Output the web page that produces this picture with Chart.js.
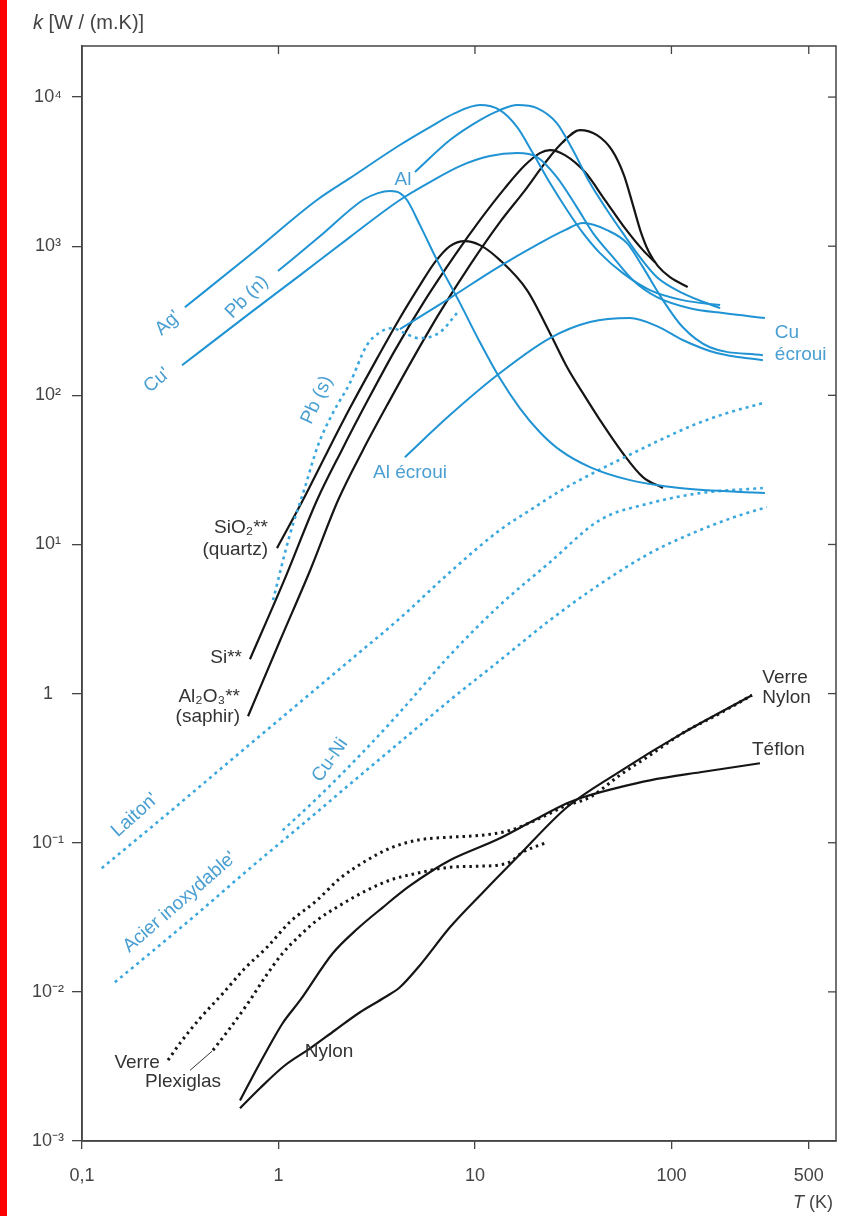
<!DOCTYPE html>
<html><head><meta charset="utf-8">
<script src="https://cdn.jsdelivr.net/npm/chart.js@4"></script>
<style>html,body{margin:0;padding:0;background:#fff;}canvas{display:block}</style>
</head><body><canvas id="c" width="841" height="1216"></canvas>
<script>
// ---------- tick values / labels ----------
const xTickValues=[0.1,1,10,100,500];
const xTickLabels=["0,1","1","10","100","500"];
const yTickValues=[1e-3,1e-2,1e-1,1,10,100,1000,10000];
const yTickLabels=["10⁻³","10⁻²","10⁻¹","1","10¹","10²","10³","10⁴"];

// ---------- series (T in K, k in W/(m.K)) ----------
const agT=[0.334,0.716,1.57,2.31,4.15,5.9,7.91,10.6,13.4,16.4,19.7,24.1,29.4,35.5,43.3,56.6,77.7,114,177];
const agK=[390,872,2040,2860,4770,6290,7810,8840,8180,6290,4210,2650,1750,1224,899,660,508,435,403];

const alT=[4.95,7.46,10.6,13.4,16.4,20.7,26.1,31.5,38.5,47.0,56.6,69.1,84.4,114,177];
const alK=[3140,5150,7010,8180,8840,8440,6690,4410,2650,1750,1224,845,620,485,384];

const cuT=[0.323,0.716,1.29,2.31,4.15,5.9,8.39,11.9,16.4,20.7,26.1,33.0,39.9,50.4,63.7,84.4,124,183,299];
const cuK=[159,356,640,1151,2040,2690,3445,4020,4210,3960,2907,1829,1224,845,592,456,384,356,330];

const pbnT=[0.994,1.63,2.69,3.21,3.69,4.15,4.51,5.25,6.41,8.39,10.6,13.4,16.9,21.4,27.1,38.5,61.5,110,299];
const pbnK=[681,1169,2040,2270,2342,2270,2040,1385,807,415,227,130,82.1,56.6,42.9,33.0,27.0,23.9,22.1];

const cuEcrT=[4.15,7.46,12.9,21.4,28.7,35.5,47.0,59.4,71.6,90.5,114,157,292];
const cuEcrK=[278,449,713,1049,1282,1428,1282,1049,724,435,287,210,186];

const alEcrT=[4.40,7.46,13.4,24.1,38.5,61.5,84.4,114,170,292];
const alEcrK=[38.5,73.7,141,242,310,330,291,235,192,172];

const pbsT=[0.938,1.14,1.36,1.59,1.89,2.31,2.82,3.29,3.78,4.40,5.13,6.64,8.10];
const pbsK=[4.23,11.5,23.9,46.3,76.0,121,217,265,282,261,242,265,356];

const quartzT=[0.983,1.33,1.77,2.31,3.10,4.15,5.25,6.26,7.46,8.89,10.6,13.4,18.4,24.1,29.4,35.5,43.3,56.6,71.6,90.5];
const quartzK=[9.45,19.8,41.6,82.1,167,330,548,782,1002,1082,1017,807,508,261,155,103,68.2,40.9,28.3,23.9];

const siT=[0.716,1.07,1.57,2.10,2.85,3.92,5.57,7.91,10.6,14.2,18.0,21.4,24.1,28.7,36.3,45.9,58.0,71.6,82.4];
const siK=[1.70,5.76,19.8,42.9,92.9,201,435,872,1496,2453,3500,4210,4410,4083,3140,2040,1322,941,782];

const saphirT=[0.700,1.02,1.45,2.01,2.69,3.69,4.95,6.64,9.43,13.4,18.0,22.7,27.7,34.2,41.8,49.8,57.3,63.7,69.9,76.8,85.4,98.3,121];
const saphirK=[0.705,2.28,6.72,19.8,42.9,92.9,186,361,747,1451,2379,3608,4915,6008,5561,4410,3000,1887,1243,913,735,620,532];

const laitonT=[0.126,0.222,0.399,0.716,1.29,2.31,4.15,7.46,13.4,19.1,27.1,39.9,59.4,87.4,129,192,292];
const laitonK=[0.0675,0.125,0.239,0.458,0.876,1.67,3.20,6.52,12.5,17.0,22.8,30.1,39.1,50.1,63.1,76.0,88.7];

const acierT=[0.147,0.222,0.399,0.716,1.29,2.31,4.15,7.46,13.4,24.1,43.3,77.7,140,223,306];
const acierK=[0.0116,0.01815,0.0347,0.0675,0.129,0.247,0.472,0.903,1.67,3.11,5.42,8.74,12.5,15.7,17.8];

const cuniT=[1.05,1.63,2.69,4.15,7.46,13.4,24.1,43.3,77.7,140,292];
const cuniK=[0.121,0.208,0.405,0.750,1.81,3.92,7.61,14.6,18.9,22.1,23.9];

const verreT=[0.274,0.315,0.399,0.522,0.675,0.874,1.14,1.57,2.06,2.82,3.69,5.07,7.46,10.6,15.1,21.4,28.7,38.5,54.7,77.7,114,177,257];
const verreK=[0.00348,0.00452,0.00665,0.00979,0.0144,0.0199,0.0293,0.0411,0.0578,0.0763,0.0918,0.104,0.109,0.112,0.121,0.146,0.176,0.202,0.284,0.386,0.543,0.739,0.976];

const plexiT=[0.464,0.566,0.716,0.854,1.05,1.29,1.57,2.06,2.82,3.69,5.07,7.46,10.6,14.6,17.5,23.3];
const plexiK=[0.00406,0.0057,0.00879,0.01253,0.01815,0.0240,0.0302,0.0381,0.048,0.0561,0.0624,0.0685,0.0696,0.0729,0.0864,0.1008];

const teflonT=[0.637,0.759,0.874,1.05,1.29,1.89,2.54,3.40,4.56,6.11,7.46,13.4,19.1,29.4,35.5,54.7,77.7,140,282];
const teflonK=[0.00187,0.00289,0.00406,0.00616,0.00879,0.01815,0.0267,0.0369,0.0503,0.0654,0.0763,0.107,0.137,0.184,0.202,0.236,0.262,0.297,0.341];

const nylonT=[0.637,0.805,1.08,1.45,1.94,2.60,3.48,4.15,5.25,7.46,11.0,16.4,29.4,52.8,114,257];
const nylonK=[0.00166,0.00226,0.00322,0.00418,0.00553,0.0073,0.0092,0.01074,0.0151,0.0271,0.0466,0.0799,0.173,0.292,0.543,0.976];

// ---------- styles ----------
const BLUE='#1f93d3', BLUE_DOT='#3aa8de', BLACK='#151515';
const BLUE_TXT='#4a9fd2', BLACK_TXT='#333333';
const FONT="'Liberation Sans', Arial, sans-serif";

function series(label,T,K,kind){
  const st={
    blue:{borderColor:BLUE,borderWidth:2,borderDash:[]},
    blueDot:{borderColor:BLUE_DOT,borderWidth:2.6,borderDash:[3,4]},
    black:{borderColor:BLACK,borderWidth:2.2,borderDash:[]},
    blackDot:{borderColor:BLACK,borderWidth:3,borderDash:[2.5,4]}
  }[kind];
  return Object.assign({label,data:T.map((t,i)=>({x:t,y:K[i]})),showLine:true,pointRadius:0,fill:false,
    cubicInterpolationMode:'monotone'},st);
}

const datasets=[
  series('Ag',agT,agK,'blue'),
  series('Al',alT,alK,'blue'),
  series('Cu',cuT,cuK,'blue'),
  series('Pb (n)',pbnT,pbnK,'blue'),
  series('Cu écroui',cuEcrT,cuEcrK,'blue'),
  series('Al écroui',alEcrT,alEcrK,'blue'),
  series('Pb (s)',pbsT,pbsK,'blueDot'),
  series('Laiton',laitonT,laitonK,'blueDot'),
  series('Acier inoxydable',acierT,acierK,'blueDot'),
  series('Cu-Ni',cuniT,cuniK,'blueDot'),
  series('SiO2 (quartz)',quartzT,quartzK,'black'),
  series('Si',siT,siK,'black'),
  series('Al2O3 (saphir)',saphirT,saphirK,'black'),
  series('Téflon',teflonT,teflonK,'black'),
  series('Nylon',nylonT,nylonK,'black'),
  series('Verre',verreT,verreK,'blackDot'),
  series('Plexiglas',plexiT,plexiK,'blackDot')
];

// ---------- curve annotations (anchored in data coordinates) ----------
const curveLabels=[
  {text:"Ag'",T:0.274,k:305,rot:-42,color:BLUE_TXT},
  {text:"Cu'",T:0.241,k:126,rot:-40,color:BLUE_TXT},
  {text:"Pb (n)",T:0.691,k:456,rot:-45,color:BLUE_TXT},
  {text:"Al",T:4.30,k:2776,color:BLUE_TXT},
  {text:"Pb (s)",T:1.57,k:92.9,rot:-65,color:BLUE_TXT},
  {text:"Al écroui",T:4.67,k:30.1,color:BLUE_TXT},
  {text:"Cu",T:336,k:261,align:'left',color:BLUE_TXT},
  {text:"écroui",T:336,k:186,align:'left',color:BLUE_TXT},
  {text:"Laiton'",T:0.186,k:0.153,rot:-42,color:BLUE_TXT},
  {text:"Acier inoxydable'",T:0.315,k:0.0399,rot:-41,color:BLUE_TXT},
  {text:"Cu-Ni",T:1.83,k:0.358,rot:-55,color:BLUE_TXT},
  {text:"SiO₂**",T:0.884,k:12.9,align:'right',color:BLACK_TXT},
  {text:"(quartz)",T:0.884,k:9.16,align:'right',color:BLACK_TXT},
  {text:"Si**",T:0.652,k:1.75,align:'right',color:BLACK_TXT},
  {text:"Al₂O₃**",T:0.637,k:0.946,align:'right',color:BLACK_TXT},
  {text:"(saphir)",T:0.637,k:0.695,align:'right',color:BLACK_TXT},
  {text:"Verre",T:0.249,k:0.00337,align:'right',color:BLACK_TXT},
  {text:"Plexiglas",T:0.327,k:0.00248,color:BLACK_TXT},
  {text:"Nylon",T:1.36,k:0.00394,align:'left',color:BLACK_TXT},
  {text:"Verre",T:290,k:1.27,align:'left',color:BLACK_TXT},
  {text:"Nylon",T:290,k:0.931,align:'left',color:BLACK_TXT},
  {text:"Téflon",T:257,k:0.417,align:'left',color:BLACK_TXT}
];
const leaderLines=[{T1:0.355,k1:0.00298,T2:0.459,k2:0.0040}];

const framePlugin={
  id:'frame',
  beforeDraw(chart){
    const c=chart.ctx;c.save();
    c.fillStyle='#ffffff';c.fillRect(0,0,chart.width,chart.height);
    c.fillStyle='#ff0000';c.fillRect(0,0,7,chart.height);
    c.restore();
  },
  afterDraw(chart){
    const {ctx,chartArea:a,scales:{x,y}}=chart;
    ctx.save();
    ctx.strokeStyle='#444';ctx.lineWidth=1.5;
    ctx.strokeRect(a.left,a.top,a.right-a.left,a.bottom-a.top);
    ctx.lineWidth=1.3;
    xTickValues.forEach(v=>{const px=x.getPixelForValue(v);if(px>a.left+3){ctx.beginPath();ctx.moveTo(px,a.top);ctx.lineTo(px,a.top+8);ctx.stroke();}});
    yTickValues.forEach(v=>{const py=y.getPixelForValue(v);if(py>a.top+3&&py<a.bottom-3){ctx.beginPath();ctx.moveTo(a.right,py);ctx.lineTo(a.right-8,py);ctx.stroke();}});
    ctx.strokeStyle=BLACK_TXT;ctx.lineWidth=1;
    leaderLines.forEach(l=>{ctx.beginPath();ctx.moveTo(x.getPixelForValue(l.T1),y.getPixelForValue(l.k1));ctx.lineTo(x.getPixelForValue(l.T2),y.getPixelForValue(l.k2));ctx.stroke();});
    curveLabels.forEach(lab=>{
      ctx.save();
      ctx.translate(x.getPixelForValue(lab.T),y.getPixelForValue(lab.k));
      if(lab.rot)ctx.rotate(lab.rot*Math.PI/180);
      ctx.font='19px '+FONT;ctx.fillStyle=lab.color;
      ctx.textAlign=lab.align||'center';ctx.textBaseline='middle';
      ctx.fillText(lab.text,0,0);
      ctx.restore();
    });
    ctx.fillStyle='#444';ctx.textBaseline='alphabetic';ctx.textAlign='left';
    ctx.font='italic 20px '+FONT;ctx.fillText('k',33,29);
    let w=ctx.measureText('k').width;
    ctx.font='20px '+FONT;ctx.fillText(' [W / (m.K)]',33+w,29);
    ctx.textAlign='right';
    ctx.font='18px '+FONT;ctx.fillText(' (K)',833,1208);
    const wk=ctx.measureText(' (K)').width;
    ctx.font='italic 18px '+FONT;ctx.fillText('T',833-wk,1208);
    ctx.restore();
  }
};

new Chart(document.getElementById('c').getContext('2d'),{
  type:'scatter',
  data:{datasets},
  options:{
    responsive:false,animation:false,devicePixelRatio:1,
    layout:{padding:{top:46,right:5,left:0,bottom:0}},
    plugins:{legend:{display:false},tooltip:{enabled:false}},
    scales:{
      x:{type:'logarithmic',min:0.1,max:688,position:'bottom',
        afterBuildTicks:s=>{s.ticks=xTickValues.map(v=>({value:v}));},
        afterFit:s=>{s.height=75;},
        ticks:{callback:(v,i)=>xTickLabels[i],font:{family:FONT,size:18},color:'#444',padding:16,maxRotation:0,autoSkip:false},
        grid:{drawOnChartArea:false,drawTicks:true,tickLength:8,color:'#444',lineWidth:1.3},
        border:{display:true,color:'#444',width:1.5}},
      y:{type:'logarithmic',min:0.001,max:22000,position:'left',
        afterBuildTicks:s=>{s.ticks=yTickValues.map(v=>({value:v}));},
        afterFit:s=>{s.width=82;},
        ticks:{callback:(v,i)=>yTickLabels[i],font:{family:FONT,size:18},color:'#444',padding:8,crossAlign:'center',autoSkip:false},
        grid:{drawOnChartArea:false,drawTicks:true,tickLength:10,color:'#444',lineWidth:1.3},
        border:{display:true,color:'#444',width:1.5}}
    }
  },
  plugins:[framePlugin]
});
</script></body></html>
